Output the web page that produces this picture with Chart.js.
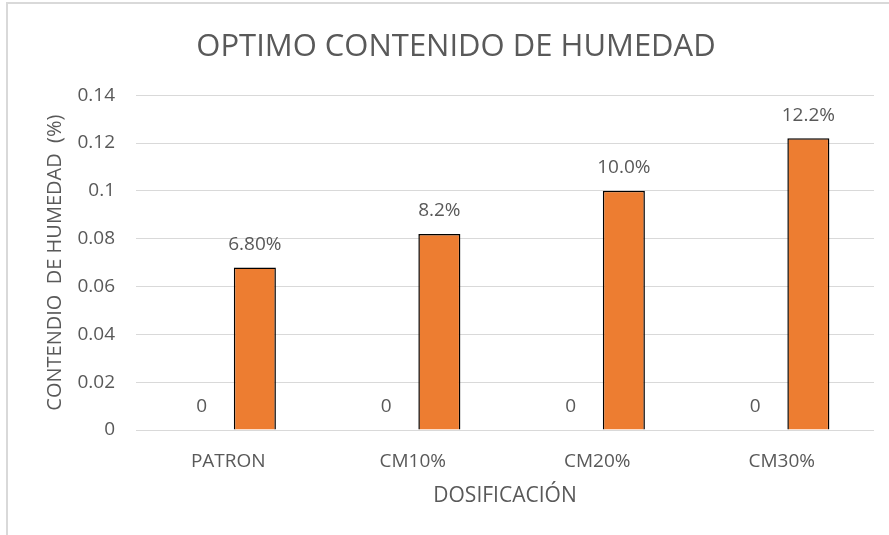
<!DOCTYPE html>
<html>
    <head>
        <meta charset="utf-8">
        <title>Optimo contenido de humedad</title>
        <script src="https://cdn.jsdelivr.net/npm/chart.js@4.4.0/dist/chart.umd.min.js"></script>
        <style>
            body { margin: 0; background: #fff; }
            #frame { position: absolute; left: 6px; top: 2px; width: 900px; height: 560px;
                     border-left: 2px solid #d9d9d9; border-top: 2px solid #d9d9d9; }
            #chart { position: absolute; left: 0; top: 0; }
        </style>
    </head>
    <body>
        <div id="frame"></div>
        <canvas id="chart" width="889" height="535"></canvas>

        <script>
            const categories = ['PATRON', 'CM10%', 'CM20%', 'CM30%'];
            const baseValues = [0, 0, 0, 0];
            const baseLabels = ['0', '0', '0', '0'];
            const humedad = [0.068, 0.082, 0.100, 0.122];
            const humedadLabels = ['6.80%', '8.2%', '10.0%', '12.2%'];
            const yTicks = ['0', '0.02', '0.04', '0.06', '0.08', '0.1', '0.12', '0.14'];

            const grey = '#595959';
            const fontFam = "'Open Sans', 'Liberation Sans', sans-serif";

            // draws the value labels above every bar
            const barLabels = {
                id: 'barLabels',
                afterDatasetsDraw(chart) {
                    const ctx = chart.ctx;
                    ctx.save();
                    ctx.font = '19px ' + fontFam;
                    ctx.fillStyle = grey;
                    ctx.textAlign = 'center';
                    ctx.textBaseline = 'middle';
                    chart.data.datasets.forEach((ds, i) => {
                        chart.getDatasetMeta(i).data.forEach((bar, j) => {
                            ctx.fillText(ds.valueLabels[j], bar.x, bar.y - 23);
                        });
                    });
                    ctx.restore();
                }
            };

            const ctx = document.getElementById('chart').getContext('2d');
            const myChart = new Chart(ctx, {
                type: 'bar',
                data: {
                    labels: categories,
                    datasets: [{
                        data: baseValues,
                        valueLabels: baseLabels,
                        backgroundColor: '#4472c4',
                        borderWidth: 0
                    }, {
                        data: humedad,
                        valueLabels: humedadLabels,
                        backgroundColor: '#ed7d31',
                        borderColor: '#000000',
                        borderWidth: 1.5
                    }]
                },
                options: {
                    responsive: false,
                    animation: false,
                    categoryPercentage: 0.577,
                    barPercentage: 0.79,
                    layout: { padding: { left: 38, right: 15, top: 0, bottom: 0 } },
                    plugins: {
                        legend: { display: false },
                        tooltip: { enabled: false },
                        title: {
                            display: true,
                            text: 'OPTIMO CONTENIDO DE HUMEDAD',
                            color: grey,
                            font: { family: fontFam, size: 31, weight: 'normal' },
                            padding: { top: 29, bottom: 29 }
                        }
                    },
                    scales: {
                        x: {
                            grid: { display: false, drawTicks: false },
                            border: { display: false },
                            ticks: { color: grey, padding: 20, font: { family: fontFam, size: 19 } },
                            title: {
                                display: true,
                                text: 'DOSIFICACIÓN',
                                color: grey,
                                font: { family: fontFam, size: 21 },
                                padding: { top: 4, bottom: 26 }
                            },
                            afterFit(scale) { scale.height = 105; }
                        },
                        y: {
                            min: 0,
                            max: 0.14,
                            grid: { color: '#d9d9d9', lineWidth: 1, drawTicks: false },
                            border: { display: false },
                            ticks: {
                                stepSize: 0.02,
                                color: grey,
                                padding: 21,
                                font: { family: fontFam, size: 19 },
                                callback: (value, index) => yTicks[index]
                            },
                            title: {
                                display: true,
                                text: 'CONTENDIO  DE HUMEDAD  (%)',
                                color: grey,
                                font: { family: fontFam, size: 20 },
                                padding: { top: 5, bottom: 4 }
                            },
                            afterFit(scale) { scale.width = 98; }
                        }
                    }
                },
                plugins: [barLabels]
            });
        </script>
    </body>
</html>
